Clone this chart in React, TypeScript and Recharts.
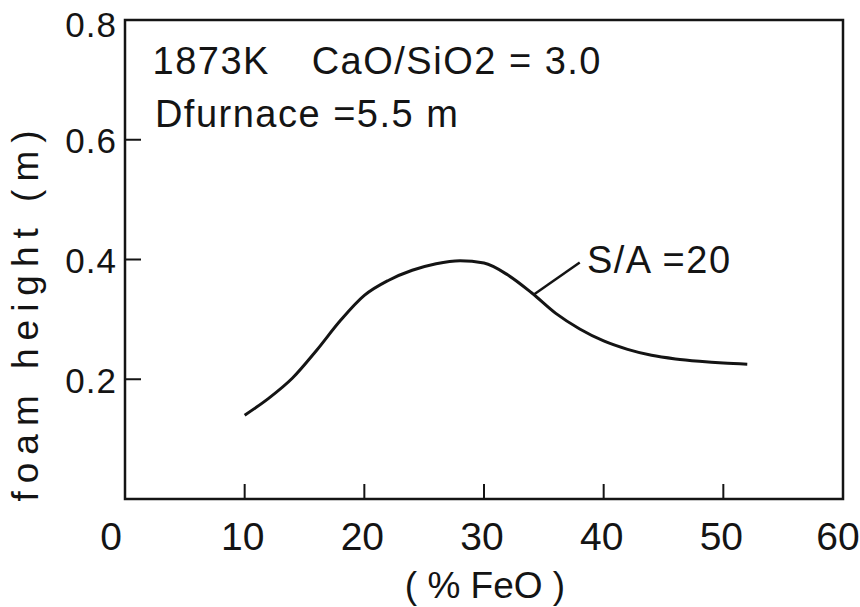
import React from "react";
import { LineChart, Line, XAxis, YAxis, ReferenceArea, ReferenceLine, ReferenceDot } from "recharts";

// %FeO vs foam height
const feoPct = [10, 12, 14, 16, 18, 20, 22, 24, 26, 28, 30, 32, 34, 36, 38, 40, 42, 44, 46, 48, 50, 52];
const foamHeight = [
  0.14, 0.168, 0.202, 0.248, 0.298, 0.34, 0.365, 0.382, 0.393, 0.398, 0.394,
  0.374, 0.344, 0.31, 0.284, 0.264, 0.25, 0.24, 0.234, 0.23, 0.227, 0.225,
];
const xTicks = [0, 10, 20, 30, 40, 50, 60];
const yTicks = [0.2, 0.4, 0.6, 0.8];

const data = feoPct.map((feo, i) => ({ feo, h: foamHeight[i] }));

const FONT = "'Liberation Sans', Arial, sans-serif";
const INK = "#141414";

const XTick = (props: any) => {
  const { x, y, payload } = props;
  const v = payload.value;
  const inner = v > 0 && v < 60;
  // the scan's corner labels sit a little off their gridline
  const dx = v === 0 ? -14 : v === 60 ? -5 : -2;
  return (
    <g>
      {inner && <line x1={x} y1={y} x2={x} y2={y - 15} stroke={INK} strokeWidth={2} />}
      <text
        x={x + dx}
        y={y + 37}
        textAnchor="middle"
        dominantBaseline="central"
        fontFamily={FONT}
        fontSize={39}
        fill={INK}
      >
        {v}
      </text>
    </g>
  );
};

const YTick = (props: any) => {
  const { x, y, payload } = props;
  const v = payload.value;
  return (
    <g>
      {v < 0.8 && <line x1={x} y1={y} x2={x + 16} y2={y} stroke={INK} strokeWidth={2} />}
      <text
        x={x - 8}
        y={v === 0.8 ? y + 4 : y + 1}
        textAnchor="end"
        dominantBaseline="central"
        fontFamily={FONT}
        fontSize={35}
        letterSpacing={1}
        fill={INK}
      >
        {v.toFixed(1)}
      </text>
    </g>
  );
};

const note = (text: string) => (p: any) => {
  const vb = p.viewBox || {};
  return (
    <text
      x={vb.x}
      y={vb.y}
      dominantBaseline="central"
      fontFamily={FONT}
      fontSize={38}
      letterSpacing={1.5}
      fill={INK}
      style={{ whiteSpace: "pre" }}
    >
      {text}
    </text>
  );
};

export default function App() {
  return (
    <div style={{ position: "absolute", left: 0, top: 0, background: "#fff" }}>
      <LineChart width={860} height={607} data={data} margin={{ top: 20, right: 17, bottom: 0, left: 0 }}>
        <XAxis
          dataKey="feo"
          type="number"
          domain={[0, 60]}
          ticks={xTicks}
          height={108}
          axisLine={false}
          tickLine={false}
          tickSize={0}
          tickMargin={0}
          tick={<XTick />}
          interval={0}
        />
        <YAxis
          type="number"
          domain={[0, 0.8]}
          ticks={yTicks}
          width={125}
          axisLine={false}
          tickLine={false}
          tickSize={0}
          tickMargin={0}
          tick={<YTick />}
          interval={0}
        />
        <ReferenceArea x1={0} x2={60} y1={0} y2={0.8} fill="none" stroke={INK} strokeWidth={2.5} />
        <Line
          type="monotone"
          dataKey="h"
          stroke={INK}
          strokeWidth={3}
          dot={false}
          isAnimationActive={false}
        />
        <ReferenceLine
          segment={[{ x: 34.2, y: 0.342 }, { x: 38, y: 0.395 }]}
          stroke={INK}
          strokeWidth={2.5}
        />
        <ReferenceDot x={2.3} y={0.731} r={0} label={{ content: note("1873K") }} />
        <ReferenceDot x={15.6} y={0.731} r={0} label={{ content: note("CaO/SiO2 = 3.0") }} />
        <ReferenceDot x={2.5} y={0.643} r={0} label={{ content: note("Dfurnace =5.5 m") }} />
        <ReferenceDot x={38.6} y={0.399} r={0} label={{ content: note("S/A =20") }} />
      </LineChart>
      <div
        style={{
          position: "absolute",
          left: 0,
          top: 0,
          width: 860,
          height: 607,
          pointerEvents: "none",
        }}
      >
        <div
          style={{
            position: "absolute",
            left: 485,
            top: 585,
            transform: "translate(-50%, -50%)",
            fontFamily: FONT,
            fontSize: 37,
            color: INK,
            whiteSpace: "pre",
            lineHeight: 1,
          }}
        >
          ( % FeO )
        </div>
        <div
          style={{
            position: "absolute",
            left: 25,
            top: 312,
            transform: "translate(-50%, -50%) rotate(-90deg)",
            fontFamily: FONT,
            fontSize: 37,
            letterSpacing: 8,
            color: INK,
            whiteSpace: "pre",
            lineHeight: 1,
          }}
        >
          foam height (m)
        </div>
      </div>
    </div>
  );
}
